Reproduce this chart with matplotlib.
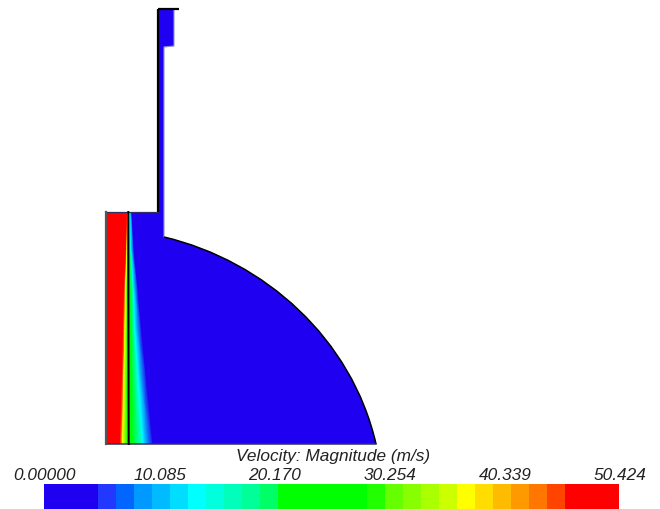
import numpy as np
import matplotlib
matplotlib.use("Agg")
import matplotlib.pyplot as plt
from matplotlib.colors import ListedColormap, Normalize
from matplotlib.patches import PathPatch
from matplotlib.path import Path

# Colour bar
vmax = 50.424
tick_values = [0.0, 10.085, 20.170, 30.254, 40.339, 50.424]
tick_labels = ["0.00000", "10.085", "20.170", "30.254", "40.339", "50.424"]
bar_colors = ["#2000f0", "#2000f0", "#2000f0", "#2238ff", "#0066ff", "#0099ff", "#00bbff", "#00ddff",
              "#00ffff", "#00ffdd", "#00ffbb", "#00ff99", "#00ff66", "#00ff00", "#00ff00", "#00ff00",
              "#00ff00", "#00ff00", "#22ff00", "#66ff00", "#88ff00", "#aaff00", "#ccff00", "#ffff00",
              "#ffdd00", "#ffbb00", "#ff9900", "#ff7700", "#ff4400", "#ff0000", "#ff0000", "#ff0000"]
bar_title = "Velocity: Magnitude (m/s)"

# Domain outline (image pixels)
upper_x = [106, 158, 158, 174, 174, 164, 164]
upper_y = [213, 213, 10, 10, 47, 48, 238]
top_lip_x = [158, 179]
top_lip_y = [10, 10]
arc_x = [164, 265, 352, 376]
arc_y = [238, 262, 340, 445]
base_x = [376, 106]
base_y = [445, 445]

# Velocity field: position of each velocity level along each row
row_y = [213, 250, 290, 330, 375, 445]
field_levels = [50.424, 50.424, 37.0, 25.0, 25.0, 13.5, 2.0, 2.0]
level_x = [
    [100, 127.0, 127.8, 128.3, 128.8, 130.0, 132.0, 385],
    [100, 126.0, 127.0, 127.8, 129.2, 131.0, 134.0, 385],
    [100, 124.0, 125.5, 127.5, 130.0, 133.5, 138.0, 385],
    [100, 123.0, 125.0, 127.5, 130.5, 135.0, 141.5, 385],
    [100, 122.0, 124.0, 127.5, 131.0, 138.0, 146.0, 385],
    [100, 120.0, 122.5, 127.5, 132.0, 143.0, 153.0, 385],
]
shear_x = [128.3, 128.7]
shear_y = [213, 445]

fig = plt.figure(figsize=(6.6, 5.1), dpi=100, facecolor="white")
ax = fig.add_axes([0, 0, 1, 1])
ax.set_xlim(0, 660)
ax.set_ylim(510, 0)
ax.axis("off")

cmap = ListedColormap(bar_colors)
norm = Normalize(0, vmax)

# Closed domain path with a smooth outer arc
verts = list(zip(upper_x, upper_y)) + list(zip(arc_x[1:], arc_y[1:])) + [(base_x[1], base_y[1]), (upper_x[0], upper_y[0])]
codes = [Path.MOVETO] + [Path.LINETO] * (len(upper_x) - 1) + [Path.CURVE4] * 3 + [Path.LINETO, Path.CLOSEPOLY]
domain = Path(verts, codes)

ax.add_patch(PathPatch(domain, facecolor=bar_colors[0], edgecolor="none", zorder=0))

# Field
X = np.array(level_x)
Y = np.repeat(np.array(row_y)[:, None], X.shape[1], axis=1)
C = np.repeat(np.array(field_levels)[None, :], X.shape[0], axis=0)
mesh = ax.pcolormesh(X, Y, C, cmap=cmap, norm=norm, shading="gouraud", zorder=1)
mesh.set_clip_path(PathPatch(domain, transform=ax.transData))

# Outline pieces
ax.plot(upper_x[:2], upper_y[:2], color="#303060", lw=0.9, zorder=3)
ax.plot(upper_x[1:3], upper_y[1:3], color="black", lw=1.6, zorder=3, solid_capstyle="butt")
ax.plot(top_lip_x, top_lip_y, color="black", lw=1.6, zorder=3, solid_capstyle="butt")
ax.plot(upper_x[3:7], upper_y[3:7], color="#9090d0", lw=0.8, zorder=2)
arc = Path(list(zip(arc_x, arc_y)), [Path.MOVETO] + [Path.CURVE4] * 3)
ax.add_patch(PathPatch(arc, facecolor="none", edgecolor="black", lw=1.1, zorder=3))
ax.plot(base_x, base_y, color="#303060", lw=1.1, zorder=3)
ax.plot([upper_x[0], base_x[1]], [upper_y[0], base_y[1]], color="#555555", lw=1.6, zorder=3)
ax.plot(shear_x, shear_y, color="black", lw=1.4, zorder=3)

# Colour bar
edges = np.linspace(44, 619, len(bar_colors) + 1)
ax.pcolormesh(edges, [485, 510], np.arange(len(bar_colors))[None, :] * vmax / (len(bar_colors) - 1),
              cmap=cmap, norm=norm, shading="flat", zorder=1)

font = dict(family="Liberation Sans", style="italic", color="#222222", fontsize=12.4)
for v, s in zip(tick_values, tick_labels):
    ax.text(45 + 575 * v / vmax, 476, s, ha="center", va="center", **font)
ax.text(333, 457, bar_title, ha="center", va="center", **font)

fig.savefig("out.png", dpi=100)
